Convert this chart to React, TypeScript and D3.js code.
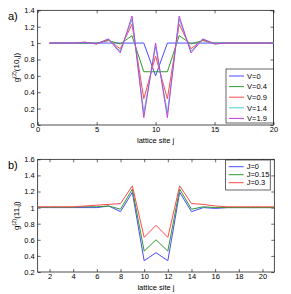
import React, { useEffect, useRef } from 'react';
import * as d3 from 'd3';

// panel a: g2(10,j) for several V
const sitesA = d3.range(1, 21);
const v0 = [1, 1, 1, 1, 1, 1, 1, 1, 1, 0.6, 1, 1, 1, 1, 1, 1, 1, 1, 1, 1];
const v04 = [1, 1, 1, 1, 1, 1.03, 0.99, 1.09, 0.65, 0.65, 0.65, 1.09, 0.99, 1.03, 1, 1, 1, 1, 1, 1];
const v09 = [1, 1, 1, 1.01, 0.99, 1.04, 0.93, 1.23, 0.32, 0.84, 0.32, 1.23, 0.93, 1.04, 0.99, 1, 1, 1, 1, 1];
const v14 = [1, 1, 1, 1.01, 0.99, 1.05, 0.9, 1.29, 0.15, 0.96, 0.15, 1.29, 0.9, 1.05, 0.99, 1, 1, 1, 1, 1];
const v19 = [1, 1, 1, 1.01, 0.99, 1.05, 0.88, 1.33, 0.09, 1.0, 0.09, 1.33, 0.88, 1.05, 0.99, 1, 1, 1, 1, 1];
const labelsA = ['V=0', 'V=0.4', 'V=0.9', 'V=1.4', 'V=1.9'];

// panel b: g2(11,j) for several J
const sitesB = d3.range(1, 22);
const j0 = [1, 1, 1, 1, 1, 1, 1.02, 0.95, 1.19, 0.34, 0.44, 0.34, 1.19, 0.95, 1.0, 0.99, 1, 1, 1, 1, 1];
const j015 = [1.005, 1.005, 1.005, 1.005, 1.01, 1.01, 1.02, 0.98, 1.23, 0.46, 0.6, 0.46, 1.23, 0.98, 1.01, 1.0, 1.0, 1.0, 1.0, 1.0, 1.0];
const j03 = [1.01, 1.01, 1.01, 1.01, 1.02, 1.03, 1.04, 1.05, 1.27, 0.63, 0.78, 0.63, 1.27, 1.05, 1.04, 1.02, 1.01, 1.01, 1.01, 1.01, 1.01];
const labelsB = ['J=0', 'J=0.15', 'J=0.3'];

const colorsA = ['#4a4aff', '#2f9a2f', '#ff4a4a', '#3fcfcf', '#c23fdf'];
const colorsB = ['#4a4aff', '#2f9a2f', '#ff4a4a'];

const font = '"Liberation Sans", Arial, sans-serif';

const App = () => {
  const ref = useRef<SVGSVGElement>(null);

  useEffect(() => {
    const svg = d3.select(ref.current);
    svg.selectAll('*').remove();

    const drawPanel = (opts: any) => {
      const { left, right, top, bottom, xDomain, yDomain, xTicks, yTicks, sites, series, colors, labels, ylab, tag, legend } = opts;
      const x = d3.scaleLinear().domain(xDomain).range([left, right]);
      const y = d3.scaleLinear().domain(yDomain).range([bottom, top]);
      const g = svg.append('g').attr('font-family', font).attr('font-size', 8);

      const fmt = (d: any) => d3.format('~g')(d);
      const ax = (a: any, tr: string, labelled: boolean, pad: number) => {
        const s = g.append('g').attr('transform', tr)
          .call(a.tickSizeInner(-3).tickSizeOuter(0).tickPadding(pad).tickFormat(labelled ? fmt : () => ''));
        s.select('.domain').remove();
        s.selectAll('line').attr('stroke', '#000').attr('stroke-width', 0.6);
        s.selectAll('text').attr('font-family', font).attr('font-size', 7.5).attr('fill', '#000');
      };
      ax(d3.axisBottom(x).tickValues(xTicks), `translate(0,${bottom})`, true, 2);
      ax(d3.axisTop(x).tickValues(xTicks), `translate(0,${top})`, false, 2);
      ax(d3.axisLeft(y).tickValues(yTicks), `translate(${left},0)`, true, 3);
      ax(d3.axisRight(y).tickValues(yTicks), `translate(${right},0)`, false, 3);

      g.append('rect')
        .attr('x', left).attr('y', top)
        .attr('width', right - left).attr('height', bottom - top)
        .attr('fill', 'none').attr('stroke', '#000').attr('stroke-width', 0.7);

      const line = d3.line<number>()
        .x((d, i) => x(sites[i]))
        .y(d => y(d));

      series.forEach((s: number[], i: number) => {
        g.append('path')
          .attr('d', line(s))
          .attr('fill', 'none')
          .attr('stroke', colors[i])
          .attr('stroke-width', 1);
      });

      g.append('text')
        .attr('x', (left + right) / 2).attr('y', bottom + 17.5)
        .attr('text-anchor', 'middle').attr('font-size', 7.5)
        .text('lattice site j');

      const yl = g.append('text')
        .attr('transform', `translate(${left - 19},${(top + bottom) / 2}) rotate(-90)`)
        .attr('text-anchor', 'middle').attr('font-size', 8);
      yl.append('tspan').text('g');
      yl.append('tspan').attr('dy', -3).attr('font-size', 5.5).text('(2)');
      yl.append('tspan').attr('dy', 3).text(ylab);

      g.append('text')
        .attr('x', 8).attr('y', top + 10)
        .attr('font-size', 11).text(tag);

      // legend
      const lg = g.append('g');
      lg.append('rect')
        .attr('x', legend.x).attr('y', legend.y)
        .attr('width', legend.w).attr('height', legend.h)
        .attr('fill', '#fff').attr('stroke', '#000').attr('stroke-width', 0.6);
      labels.forEach((lab: string, i: number) => {
        const ly = legend.y + legend.first + i * legend.step;
        lg.append('line')
          .attr('x1', legend.x + 3).attr('x2', legend.x + 18)
          .attr('y1', ly).attr('y2', ly)
          .attr('stroke', colors[i]).attr('stroke-width', 1);
        lg.append('text')
          .attr('x', legend.x + 21).attr('y', ly + 2.7)
          .attr('font-size', 7.5).text(lab);
      });
    };

    drawPanel({
      left: 37.7, right: 273.5, top: 10.3, bottom: 125,
      xDomain: [0, 20], yDomain: [0, 1.4],
      xTicks: [0, 5, 10, 15, 20], yTicks: d3.range(0, 1.41, 0.2).map(v => +v.toFixed(1)),
      sites: sitesA, series: [v0, v04, v09, v14, v19], colors: colorsA, labels: labelsA,
      ylab: '(10,j)', tag: 'a)',
      legend: { x: 226, y: 69, w: 47.5, h: 54, first: 7, step: 10.6 },
    });

    drawPanel({
      left: 37.7, right: 274.3, top: 159.3, bottom: 272,
      xDomain: [1, 21], yDomain: [0.2, 1.6],
      xTicks: d3.range(2, 21, 2), yTicks: d3.range(0.2, 1.61, 0.2).map(v => +v.toFixed(1)),
      sites: sitesB, series: [j0, j015, j03], colors: colorsB, labels: labelsB,
      ylab: '(11,j)', tag: 'b)',
      legend: { x: 225.7, y: 160, w: 44.5, h: 30, first: 6.7, step: 8 },
    });
  }, []);

  return (
    <svg ref={ref} width={291} height={294}
      style={{ position: 'absolute', left: 0, top: 0, background: '#fff' }} />
  );
};

export default App;
